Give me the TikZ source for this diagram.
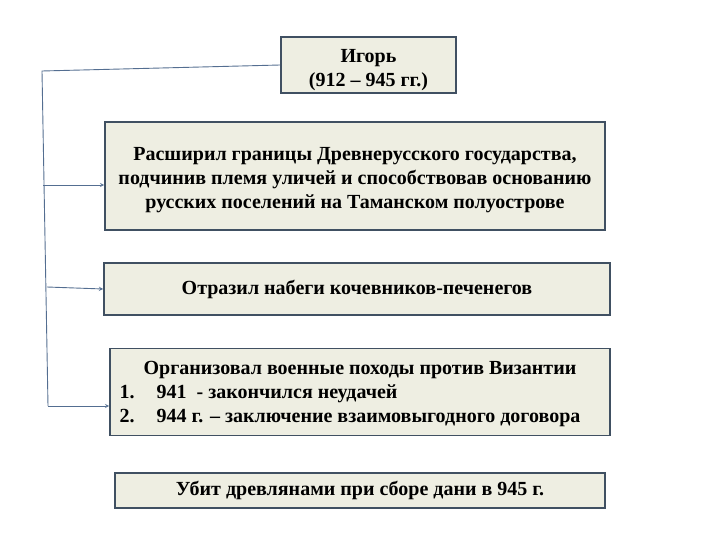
\documentclass[tikz,border=0pt]{standalone}
\usepackage{fontspec}
\setmainfont{Liberation Serif}
\usepackage{tikz}
\definecolor{boxFill}{RGB}{238,238,226}
\definecolor{boxLine}{RGB}{64,80,98}
\definecolor{linkColor}{RGB}{84,110,145}
\newcommand{\dropText}[2]{\raisebox{-#1}[\height][\depth]{#2}}

\begin{document}
\begin{tikzpicture}[x=1pt,y=-1pt]

          \tikzstyle{factBox} = [draw=boxLine, line width=1.6pt, fill=boxFill, inner sep=0pt,
                                 font=\fontsize{20}{24}\selectfont\bfseries, align=center];
          \tikzstyle{linkEdge} = [linkColor, line width=0.9pt];
          \tikzstyle{linkArrow} = [linkColor, line width=0.9pt, ->, >=stealth];

          \useasboundingbox (0,0) rectangle (720,540);

          \node[factBox, minimum width=175pt, minimum height=56pt] (igor) at (368.5,65)
               {\dropText{5pt}{\begin{tabular}{@{}c@{}}Игорь\\(912 – 945 гг.)\end{tabular}}};
          \node[factBox, minimum width=500pt, minimum height=108pt] (borders) at (355,176)
               {\dropText{4pt}{\begin{tabular}{@{}c@{}}
                Расширил границы Древнерусского государства,\\
                подчинив племя уличей и способствовав основанию\\
                русских поселений на Таманском полуострове
                \end{tabular}}};
          \node[factBox, minimum width=506pt, minimum height=52pt] (nomads) at (357,289)
               {Отразил набеги кочевников-печенегов};
          \node[factBox, minimum width=500pt, minimum height=87pt] (byzantium) at (360,392)
               {\dropText{2pt}{\begin{tabular}{@{}l@{\hspace{22pt}}l@{}}
                \multicolumn{2}{@{}c@{}}{\hspace{20pt}Организовал военные походы против Византии}\\
                1. & 941\ \ - закончился неудачей\\
                2. & 944 г. – заключение взаимовыгодного договора
                \end{tabular}}\hspace*{20pt}};
          \node[factBox, minimum width=490pt, minimum height=35pt] (death) at (360,490.5)
               {Убит древлянами при сборе дани в 945 г.};

          \coordinate (trunkTop) at (42,71);
          \coordinate (trunkBottom) at (48,406);
          \coordinate (forkBorders) at (43,185);
          \coordinate (forkNomads) at (47,287);

          \draw[linkEdge] (igor.west) -- (trunkTop) -- (trunkBottom);
          \draw[linkArrow] (forkBorders) -- (borders.west |- forkBorders);
          \draw[linkArrow] (forkNomads) -- (nomads.west);
          \draw[linkArrow] (trunkBottom) -- (byzantium.west |- trunkBottom);
        \end{tikzpicture}
\end{document}
